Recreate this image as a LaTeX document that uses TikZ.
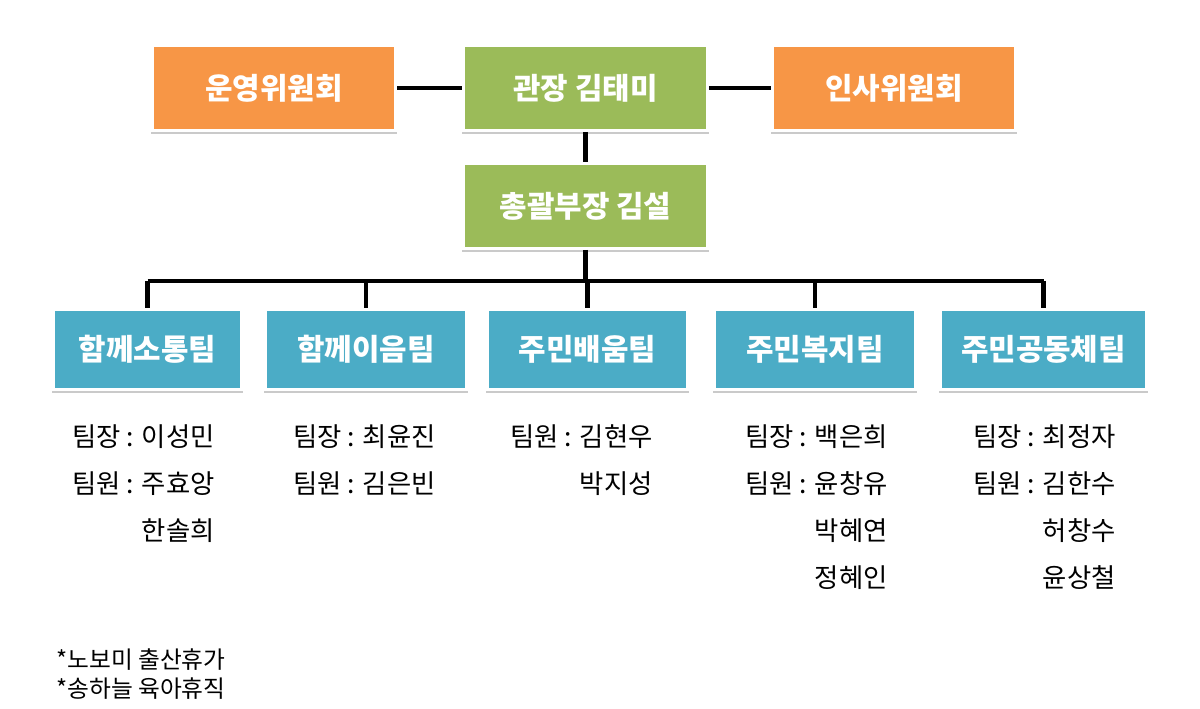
\documentclass[tikz,border=0pt]{standalone}
\usepackage{fontspec}
\setmainfont{Noto Sans CJK KR}
\usepackage{tikz}
\usetikzlibrary{positioning,shadows,calc}
\definecolor{OrgOrange}{HTML}{F79646}
\definecolor{OrgGreen}{HTML}{9BBB59}
\definecolor{OrgBlue}{HTML}{4BACC6}
\tikzset{
  orgbox/.style={rectangle, draw=white, line width=1.7pt, text=white,
    font=\fontsize{17}{20}\selectfont\bfseries, inner sep=0pt,
    drop shadow={shadow xshift=0pt, shadow yshift=-1.6pt, shadow scale=1.012,
      fill=black!60, opacity=0.35},
    minimum width=4.88cm, minimum height=1.7cm},
  teambox/.style={orgbox, fill=OrgBlue, minimum width=4.02cm, minimum height=1.6cm},
  members/.style={align=right, anchor=base east, inner sep=0pt,
    font=\fontsize{15}{26.7}\selectfont},
  link/.style={line width=2.3pt, black},
}

\begin{document}
\begin{tikzpicture}[x=0.02cm, y=-0.02cm]
  \useasboundingbox (0,0) rectangle (1200,709);

  % top row
  \node[orgbox, fill=OrgOrange] (wy) at (274,88) {운영위원회};
  \node[orgbox, fill=OrgGreen] (head) at (585.5,88) {관장 김태미};
  \node[orgbox, fill=OrgOrange] (hr) at (894,88) {인사위원회};
  \node[orgbox, fill=OrgGreen] (gm) at (585.5,206) {총괄부장 김설};

  % teams
  \node[teambox, minimum width=3.76cm] (t1) at (147.5,349.5) {함께소통팀};
  \node[teambox] (t2) at (366,349.5) {함께이음팀};
  \node[teambox] (t3) at (587.5,349.5) {주민배움팀};
  \node[teambox] (t4) at (815,349.5) {주민복지팀};
  \node[teambox, minimum width=4.12cm] (t5) at (1043.5,349.5) {주민공동체팀};

  % connectors
  \draw[link] (wy.east) -- (head.west);
  \draw[link] (head.east) -- (hr.west);
  \draw[link] (head.south) -- (gm.north);
  \coordinate (bar) at (585.5,281);
  \draw[link] (gm.south) -- (bar);
  \draw[link] (bar -| t1) -- (bar -| t5);
  \foreach \t in {t1,t2,t3,t4,t5}
    \draw[link] (bar -| \t) -- (\t.north);

  % members (base = last line)
  \node[members] (m1) at (215,540) {팀장 : 이성민\\팀원 : 주효앙\\한솔희};
  \node[members] (m2) at (436,493) {팀장 : 최윤진\\팀원 : 김은빈};
  \node[members] (m3) at (653,493) {팀원 : 김현우\\박지성};
  \node[members] (m4) at (888,587) {팀장 : 백은희\\팀원 : 윤창유\\박혜연\\정혜인};
  \node[members] (m5) at (1116,587) {팀장 : 최정자\\팀원 : 김한수\\허창수\\윤상철};

  % footnote
  \node[align=left, anchor=base west, inner sep=0pt,
        font=\fontsize{13.5}{16}\selectfont] (note) at (56,697)
        {*노보미 출산휴가\\*송하늘 육아휴직};
\end{tikzpicture}
\end{document}
